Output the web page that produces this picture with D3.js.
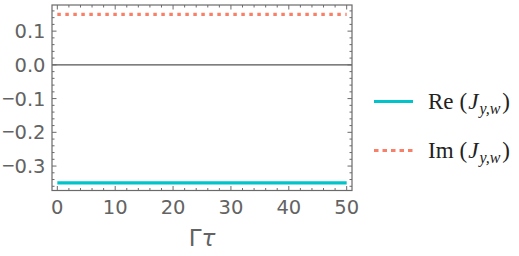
<!DOCTYPE html>
<html><head><meta charset="utf-8">
<script src="https://cdn.jsdelivr.net/npm/d3@7"></script>
<style>body{margin:0;background:#fff}svg{display:block}</style>
</head><body>
<svg id="c" width="519" height="256"></svg>
<script>
const xValues = [0, 10, 20, 30, 40, 50];
const reValues = [-0.35, -0.35, -0.35, -0.35, -0.35, -0.35];
const imValues = [0.15, 0.15, 0.15, 0.15, 0.15, 0.15];
const xTicks = [0, 10, 20, 30, 40, 50];
const yTicks = [0.1, 0.0, -0.1, -0.2, -0.3];
const yTickLabels = ["0.1", "0.0", "\u22120.1", "\u22120.2", "\u22120.3"];
const seriesNames = ["Re", "Im"];

const svg = d3.select("#c");
const L = 52, R = 352, T = 5, B = 190.5;
const x = d3.scaleLinear().domain([-0.92, 50.92]).range([L, R]);
const y = d3.scaleLinear().domain([-0.3725, 0.1775]).range([B, T]);
const frameCol = "#6a6a6a", txtCol = "#636363";
const reCol = "#00C4CA", imCol = "#F98068";

// zero line
svg.append("line").attr("x1", L).attr("x2", R).attr("y1", y(0)).attr("y2", y(0))
  .attr("stroke", "#555").attr("stroke-width", 1.1);

// minor/major ticks
const xMinor = d3.range(0, 51, 2);
const yMinor = d3.range(-36, 18, 2).map(v => v / 100);
const g = svg.append("g").attr("stroke", frameCol).attr("stroke-width", 1);
xMinor.forEach(v => {
  const len = v % 10 === 0 ? 4.5 : 2.5;
  g.append("line").attr("x1", x(v)).attr("x2", x(v)).attr("y1", B).attr("y2", B - len);
  g.append("line").attr("x1", x(v)).attr("x2", x(v)).attr("y1", T).attr("y2", T + len);
});
yMinor.forEach(v => {
  const major = Math.abs(Math.round(v * 100)) % 10 === 0;
  const len = major ? 4.5 : 2.5;
  g.append("line").attr("y1", y(v)).attr("y2", y(v)).attr("x1", L).attr("x2", L + len);
  g.append("line").attr("y1", y(v)).attr("y2", y(v)).attr("x1", R).attr("x2", R - len);
});

// data lines
const line = d3.line().x((d, i) => x(xValues[i])).y(d => y(d));
svg.append("path").datum(reValues).attr("d", line).attr("fill", "none")
  .attr("stroke", reCol).attr("stroke-width", 3.2);
svg.append("path").datum(imValues).attr("d", line).attr("fill", "none")
  .attr("stroke", imCol).attr("stroke-width", 3.2).attr("stroke-dasharray", "3.5,4.5");

// frame
svg.append("rect").attr("x", L).attr("y", T).attr("width", R - L).attr("height", B - T)
  .attr("fill", "none").attr("stroke", frameCol).attr("stroke-width", 1.2);

// tick labels
const font = "DejaVu Sans";
svg.append("g").selectAll("text").data(xTicks).join("text")
  .attr("x", d => x(d)).attr("y", 214).attr("text-anchor", "middle")
  .attr("font-family", font).attr("font-size", 19.5).attr("fill", txtCol).text(d => d);
svg.append("g").selectAll("text").data(yTicks).join("text")
  .attr("x", 45.5).attr("y", d => y(d) + 7).attr("text-anchor", "end")
  .attr("font-family", font).attr("font-size", 19.5).attr("fill", txtCol)
  .each(function(d, i) {
    const s = yTickLabels[i];
    const t = d3.select(this);
    if (s[0] === "\u2212") {
      t.append("tspan").attr("font-family", "Liberation Sans").attr("font-size", 21.5).text("\u2212");
      t.append("tspan").text(s.slice(1));
    } else t.text(s);
  });

// axis label
const xl = svg.append("text").attr("x", x(25)).attr("y", 246).attr("text-anchor", "middle")
  .attr("font-family", font).attr("font-size", 23).attr("fill", txtCol);
xl.append("tspan").text("\u0393");
xl.append("tspan").attr("font-style", "italic").text("\u03C4");

// legend
const legY = [101.5, 150.5];
const legCol = [reCol, imCol];
legY.forEach((ly, i) => {
  svg.append("line").attr("x1", 374).attr("x2", 413).attr("y1", ly).attr("y2", ly)
    .attr("stroke", legCol[i]).attr("stroke-width", 3.2)
    .attr("stroke-dasharray", i === 1 ? "4.5,4" : null);
  const t = svg.append("text").attr("x", 428).attr("y", ly + 7.5)
    .attr("font-family", "Liberation Serif").attr("font-size", 23).attr("fill", "#222");
  t.append("tspan").text(seriesNames[i]);
  t.append("tspan").attr("dx", 6).text("(");
  t.append("tspan").attr("dx", 1).attr("font-style", "italic").text("J");
  t.append("tspan").attr("font-style", "italic").attr("font-size", 16).attr("dy", 5).attr("dx", 1).text("y,w");
  t.append("tspan").attr("dy", -5).attr("dx", 2).text(")");
});
</script>
</body></html>
